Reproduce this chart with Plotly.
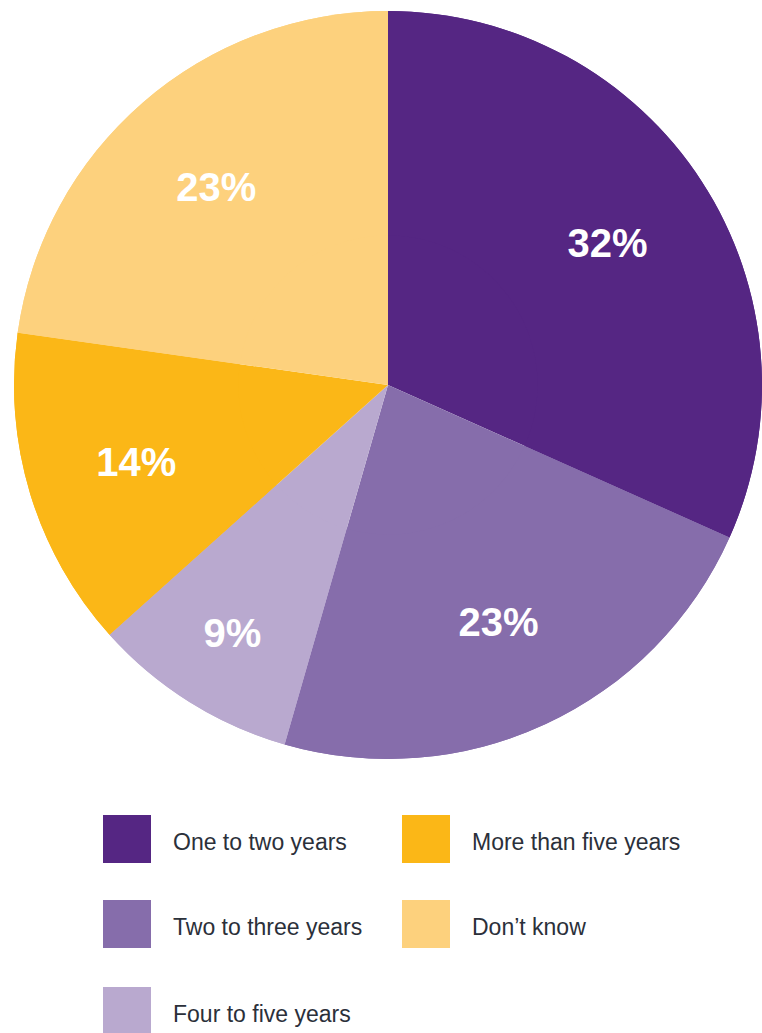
import plotly.graph_objects as go

# Survey answers, clockwise from 12 o'clock
categories = [
    "One to two years",
    "Two to three years",
    "Four to five years",
    "More than five years",
    "Don\u2019t know",
]
shares = [32, 23, 9, 14, 23]
colors = ["#552683", "#866dab", "#b9a9cf", "#fbb717", "#fdd17d"]

W, H = 762, 1033

# Pie placement (pixels)
pie_left, pie_top, pie_size = 14, 11, 748
pie_domain = dict(
    x=[pie_left / W, (pie_left + pie_size) / W],
    y=[1 - (pie_top + pie_size) / H, 1 - pie_top / H],
)

fig = go.Figure()

# Solid base pie (fills the centre under the ring carrying the labels)
fig.add_trace(go.Pie(
    labels=categories, values=shares, sort=False, direction="clockwise",
    rotation=0, marker=dict(colors=colors, line=dict(width=0)),
    textinfo="none", hoverinfo="skip", showlegend=False, domain=pie_domain,
))

# Ring on top: same slices, labels pushed out to ~70% of the radius
fig.add_trace(go.Pie(
    labels=categories, values=shares, sort=False, direction="clockwise",
    rotation=0, hole=0.40, marker=dict(colors=colors, line=dict(width=0)),
    texttemplate="%{value}%", textposition="inside",
    insidetextorientation="horizontal",
    textfont=dict(family="Liberation Sans", size=40, color="white", weight="bold"),
    hoverinfo="label+value", showlegend=False, domain=pie_domain,
))

# Custom legend: two columns, three rows, big swatches
col_x = [127, 426]
row_y = [839, 924, 1011]
text_dx = 46
sw_x, sw_y, tx_x, tx_y = [], [], [], []
for i in range(len(categories)):
    c, r = i // 3, i % 3
    sw_x.append(col_x[c])
    sw_y.append(row_y[r])
    tx_x.append(col_x[c] + text_dx)
    tx_y.append(row_y[r] + 5)

fig.add_trace(go.Scatter(
    x=sw_x, y=sw_y, mode="markers",
    marker=dict(symbol="square", size=48, color=colors, line=dict(width=0)),
    hoverinfo="skip", showlegend=False, cliponaxis=False,
))
fig.add_trace(go.Scatter(
    x=tx_x, y=tx_y, mode="text", text=categories,
    textposition="middle right",
    textfont=dict(family="Liberation Sans", size=23, color="#2b303a"),
    hoverinfo="skip", showlegend=False, cliponaxis=False,
))

fig.update_layout(
    width=W, height=H,
    margin=dict(l=0, r=0, t=0, b=0),
    paper_bgcolor="white", plot_bgcolor="rgba(0,0,0,0)",
    xaxis=dict(range=[0, W], visible=False, fixedrange=True),
    yaxis=dict(range=[H, 0], visible=False, fixedrange=True),
)

fig.write_html("out.html")
